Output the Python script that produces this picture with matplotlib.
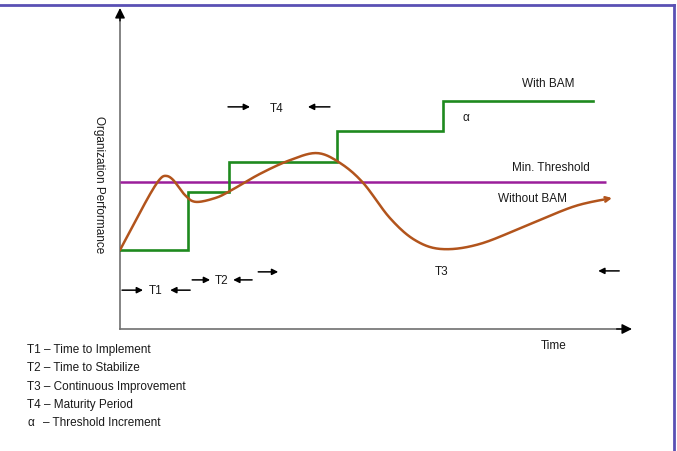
#!/usr/bin/env python3
"""BAM performance sketch: with/without BAM vs. minimum threshold."""

import matplotlib

matplotlib.use("Agg")
import matplotlib.pyplot as plt
import numpy as np
from matplotlib.lines import Line2D

plt.rcParams["font.family"] = ["Liberation Sans", "DejaVu Sans"]

# time / performance both on a 0-100 scale
without_t = [0, 2.9, 5.9, 7.8, 9.0, 10.4, 12.7, 14.8, 18.6, 21.5, 27.3, 33.2, 38.5,
             43.0, 47.5, 52.7, 57.6, 62.9, 70.3, 80.1, 88.9, 96.1]
without_p = [24.6, 33.3, 42.1, 46.7, 47.7, 46.4, 41.7, 39.6, 40.8, 43.0, 48.3, 52.6, 54.8,
             51.7, 45.5, 34.6, 27.7, 24.9, 26.5, 32.7, 38.3, 40.8]

with_edges = [0, 13.3, 21.3, 42.4, 63.1, 92.4]
with_levels = [24.6, 42.8, 52.0, 61.7, 71.0]

threshold = 45.8
threshold_end = 94.9

# (label, t, p)
labels = [
    ("With BAM", 83.6, 76.3),
    ("\u03b1", 67.6, 65.7),
    ("Min. Threshold", 84.2, 50.2),
    ("Without BAM", 80.5, 40.5),
    ("T4", 30.5, 68.5),
    ("T3", 62.9, 17.8),
    ("T2", 19.9, 15.0),
    ("T1", 7.0, 11.8),
]

# period markers: (t_from, t_to, p)
period_arrows = [
    (0.4, 4.5, 12.1), (13.7, 9.8, 12.1),
    (14.1, 17.6, 15.3), (25.8, 22.1, 15.3),
    (27.0, 30.9, 17.8), (97.5, 93.4, 18.1),
    (21.1, 25.4, 69.2), (41.0, 36.7, 69.2),
]

key_lines = [
    "T1 \u2013 Time to Implement",
    "T2 \u2013 Time to Stabilize",
    "T3 \u2013 Continuous Improvement",
    "T4 \u2013 Maturity Period",
]


def catmull_rom(xs, ys, n=16):
    pts = np.column_stack([xs, ys]).astype(float)
    pts = np.vstack([pts[0], pts, pts[-1]])
    out = []
    s = np.linspace(0, 1, n, endpoint=False)[:, None]
    for i in range(1, len(pts) - 2):
        p0, p1, p2, p3 = pts[i - 1], pts[i], pts[i + 1], pts[i + 2]
        seg = 0.5 * ((2 * p1) + (-p0 + p2) * s
                     + (2 * p0 - 5 * p1 + 4 * p2 - p3) * s ** 2
                     + (-p0 + 3 * p1 - 3 * p2 + p3) * s ** 3)
        out.append(seg)
    out.append(pts[-2][None, :])
    out = np.vstack(out)
    return out[:, 0], out[:, 1]


fig = plt.figure(figsize=(6.77, 4.51), dpi=100)
ax = fig.add_axes([120 / 677, 1 - 329 / 451, 512 / 677, 321 / 451])
ax.set_xlim(0, 100)
ax.set_ylim(0, 100)
ax.axis("off")

# axes: grey shafts, black filled heads
axis_col = "#707070"
ax.plot([0, 0], [0, 0.98], color=axis_col, lw=1.2, transform=ax.transAxes, clip_on=False)
ax.plot([0, 0.98], [0, 0], color=axis_col, lw=1.2, transform=ax.transAxes, clip_on=False)
for end, start in [((0, 1), (0, 0.96)), ((1, 0), (0.97, 0))]:
    ax.annotate("", xy=end, xytext=start, xycoords="axes fraction",
                arrowprops=dict(arrowstyle="-|>", lw=1.0, mutation_scale=15,
                                shrinkA=0, shrinkB=0, color="black"))

# min threshold
ax.plot([0, threshold_end], [threshold, threshold], color="#9b1e9b", lw=1.8,
        solid_capstyle="butt")

# with BAM step line
step_x, step_y = [], []
for i, lvl in enumerate(with_levels):
    step_x += [with_edges[i], with_edges[i + 1]]
    step_y += [lvl, lvl]
ax.plot(step_x, step_y, color="#1e8a1e", lw=1.9, solid_joinstyle="miter")

# without BAM curve
cx, cy = catmull_rom(without_t, without_p)
ax.plot(cx[:-3], cy[:-3], color="#b2541c", lw=1.8, solid_capstyle="round")
ax.annotate("", xy=(cx[-1], cy[-1]), xytext=(cx[-4], cy[-4]),
            arrowprops=dict(arrowstyle="->", color="#b2541c", lw=1.8,
                            mutation_scale=8, shrinkA=0, shrinkB=0))

for txt, t, p in labels:
    ax.text(t, p, txt, ha="center", va="center", fontsize=8.5, color="#1a1a1a")

for t0, t1, p in period_arrows:
    ax.annotate("", xy=(t1, p), xytext=(t0, p),
                arrowprops=dict(arrowstyle="-|>", color="black", lw=1.1,
                                mutation_scale=9, shrinkA=0, shrinkB=0))

fig.text(554 / 677, 1 - 346 / 451, "Time", ha="center", va="center",
         fontsize=8.5, color="#1a1a1a")
fig.text(99 / 677, 1 - 185 / 451, "Organization Performance", rotation=270,
         ha="center", va="center", fontsize=8.5, color="#1a1a1a")

key_y = [350, 368, 387, 405]
for txt, y in zip(key_lines, key_y):
    fig.text(27 / 677, 1 - y / 451, txt, ha="left", va="center",
             fontsize=8.5, color="#1a1a1a")
fig.text(27 / 677, 1 - 423 / 451, "\u03b1", ha="left", va="center",
         fontsize=8.5, color="#1a1a1a")
fig.text(43 / 677, 1 - 423 / 451, "\u2013 Threshold Increment", ha="left",
         va="center", fontsize=8.5, color="#1a1a1a")

# frame (top and right edges visible)
frame_col = "#5a50b4"
fig.add_artist(Line2D([0, 674 / 677], [1 - 5 / 451, 1 - 5 / 451],
                      color=frame_col, lw=2.0))
fig.add_artist(Line2D([674 / 677, 674 / 677], [0, 1 - 5 / 451],
                      color=frame_col, lw=2.0))

fig.savefig("out.png", dpi=100)
